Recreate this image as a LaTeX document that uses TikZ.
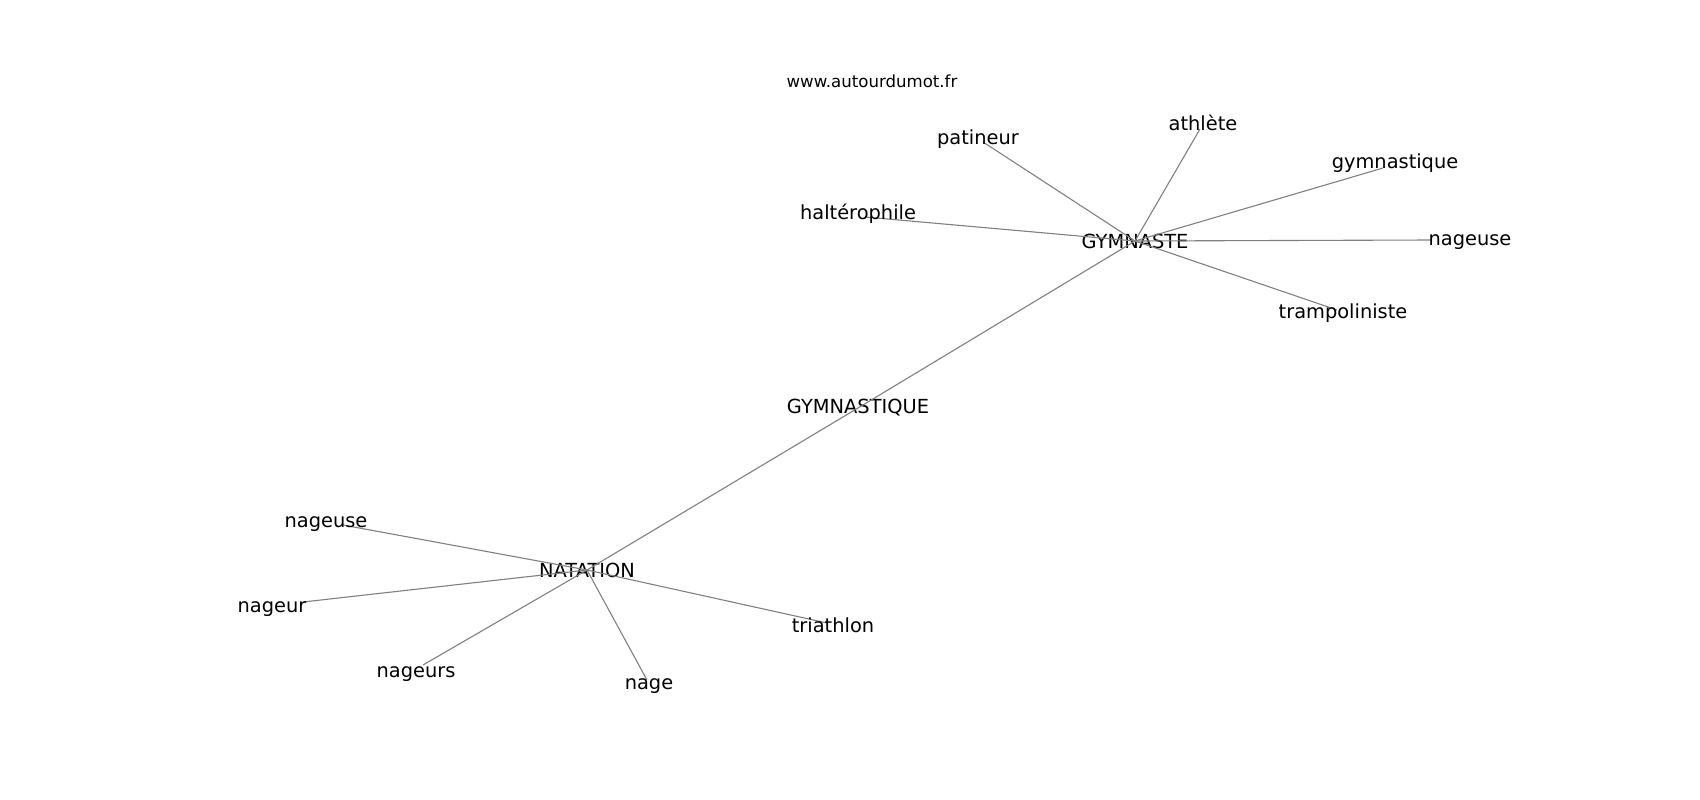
\documentclass[tikz,border=0pt]{standalone}
\usepackage{fontspec}
\setmainfont{DejaVu Sans}
\usepackage{tikz}

\begin{document}
\begin{tikzpicture}[%
    x=1pt, y=-1pt,
    word/.style={%
        inner sep=0pt,
        anchor=base,
        font=\fontsize{19.4}{23}\selectfont
    },
    hub/.style={%
        inner sep=0pt,
        anchor=center,
        font=\fontsize{19.4}{23}\selectfont
    },
    site/.style={%
        inner sep=0pt,
        anchor=base,
        font=\fontsize{16.6}{19}\selectfont
    },
    link/.style={%
        draw=black!50,
        line width=1.1pt
    }
]
\useasboundingbox (0,0) rectangle (1700,800);

% Hubs
    \node[hub] (gymnaste) at (1135,241) {GYMNASTE};
    \node[hub] (gymnastique) at (858,408) {GYMNASTIQUE};
    \node[hub] (natation) at (587,570) {NATATION};

% Ends of the links
    \coordinate (patineurEnd) at (983,142);
    \coordinate (halterophileEnd) at (865,217);
    \coordinate (athleteEnd) at (1200,129);
    \coordinate (gymnastiqueEnd) at (1383,168);
    \coordinate (nageuseEnd1) at (1432,240);
    \coordinate (trampolinisteEnd) at (1337,310);
    \coordinate (nageuseEnd2) at (343,525);
    \coordinate (nageurEnd) at (303,602);
    \coordinate (nageursEnd) at (423,665);
    \coordinate (nageEnd) at (647,680);
    \coordinate (triathlonEnd) at (827,623);

% Links
\draw[link] (gymnaste.center) -- (patineurEnd);
\draw[link] (gymnaste.center) -- (halterophileEnd);
\draw[link] (gymnaste.center) -- (athleteEnd);
\draw[link] (gymnaste.center) -- (gymnastiqueEnd);
\draw[link] (gymnaste.center) -- (nageuseEnd1);
\draw[link] (gymnaste.center) -- (trampolinisteEnd);

\draw[link] (gymnaste.center) -- (gymnastique.center);
\draw[link] (gymnastique.center) -- (natation.center);

\draw[link] (natation.center) -- (nageuseEnd2);
\draw[link] (natation.center) -- (nageurEnd);
\draw[link] (natation.center) -- (nageursEnd);
\draw[link] (natation.center) -- (nageEnd);
\draw[link] (natation.center) -- (triathlonEnd);

% Words round GYMNASTE
    \node[word] (patineur) at (978,144) {patineur};
    \node[word] (halterophile) at (858,219) {haltérophile};
    \node[word] (athlete) at (1203,130) {athlète};
    \node[word] (gymnastiqueWord) at (1395,168) {gymnastique};
    \node[word] (nageuse1) at (1470,245) {nageuse};
    \node[word] (trampoliniste) at (1343,318) {trampoliniste};

% Words round NATATION
    \node[word] (nageuse2) at (326,527) {nageuse};
    \node[word] (nageur) at (272,612) {nageur};
    \node[word] (nageurs) at (416,677) {nageurs};
    \node[word] (nage) at (649,689) {nage};
    \node[word] (triathlon) at (833,632) {triathlon};

% Site
    \node[site] (site) at (872,88) {www.autourdumot.fr};

\end{tikzpicture}
\end{document}
